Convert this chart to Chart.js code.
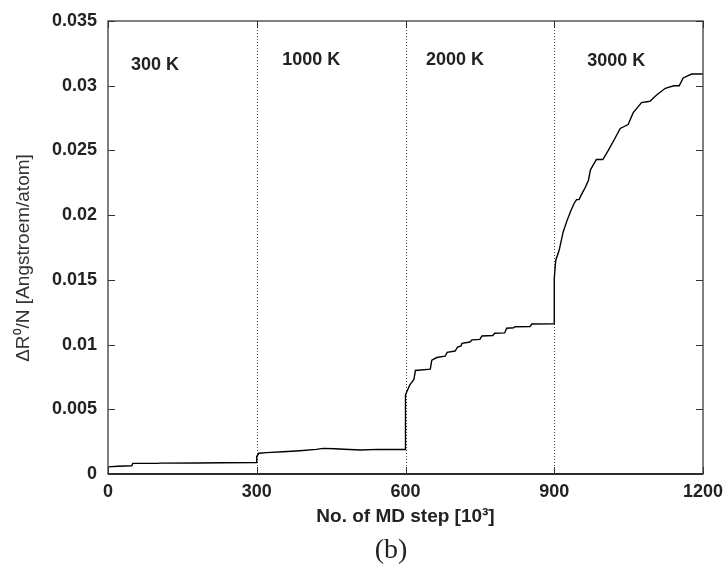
<!DOCTYPE html>
<html>
<head>
<meta charset="utf-8">
<script src="https://cdn.jsdelivr.net/npm/chart.js@4.4.0/dist/chart.umd.min.js"></script>
<style>
  html, body { margin: 0; padding: 0; background: #ffffff; }
</style>
</head>
<body>
<canvas id="graphe" width="727" height="569"></canvas>
<script>
// No. of MD step [10^3] and DeltaR0/N
const mdStep = [
  0, 20, 48, 50, 100, 105, 180, 230, 300,
  300, 304, 320, 353, 387, 420, 434, 458, 476, 510, 544, 600,
  600, 603, 609, 613, 617, 620, 650, 653, 663, 680, 684, 700, 705, 712, 714,
  730, 734, 750, 754, 776, 780, 800, 804, 818, 821, 851, 855, 900,
  900, 903, 910, 918, 925, 933, 940, 945, 950, 955, 962, 969, 973, 985, 998,
  1009, 1022, 1033, 1049, 1059, 1076, 1093, 1107, 1124, 1141, 1152, 1160, 1177, 1200
];
const drift = [
  0.00055, 0.0006, 0.00064, 0.00082, 0.00082, 0.00084, 0.00085, 0.00087, 0.00089,
  0.00135, 0.0016, 0.00165, 0.00172, 0.0018, 0.0019, 0.00198, 0.00195, 0.00191, 0.00186, 0.0019, 0.00189,
  0.0061, 0.0064, 0.0069, 0.0071, 0.0073, 0.0080, 0.0081, 0.0088, 0.0090, 0.0091, 0.0094, 0.0095, 0.0098, 0.0099, 0.0101,
  0.0102, 0.01036, 0.0104, 0.01066, 0.0107, 0.01087, 0.0109, 0.01126, 0.0113, 0.01138, 0.0114, 0.01159, 0.0116,
  0.0151, 0.0165, 0.0173, 0.0187, 0.0195, 0.0203, 0.0209, 0.0212, 0.0212, 0.0216, 0.0221, 0.0227, 0.0235, 0.0243, 0.0243,
  0.0250, 0.0259, 0.0267, 0.0270, 0.0279, 0.0287, 0.0288, 0.0293, 0.0298, 0.0300, 0.0300, 0.0306, 0.0309, 0.0309
];

// temperature phases
const phaseBounds = [300, 600, 900];
const phaseNames = ["300 K", "1000 K", "2000 K", "3000 K"];

// ticks
const xTicks = [0, 300, 600, 900, 1200];
const xTickLabels = ["0", "300", "600", "900", "1200"];
const yTicks = [0, 0.005, 0.01, 0.015, 0.02, 0.025, 0.03, 0.035];
const yTickLabels = ["0", "0.005", "0.01", "0.015", "0.02", "0.025", "0.03", "0.035"];

// where the phase names sit (data units)
const phaseNameX = [95, 410, 700, 1025];
const phaseNameY = [0.0316, 0.0320, 0.0320, 0.0319];

const police = "'Liberation Sans', Arial, Helvetica, sans-serif";

function labelFor(ticks, labels, value) {
  const i = ticks.findIndex(t => Math.abs(t - value) < 1e-9);
  return i >= 0 ? labels[i] : "";
}

const decor = {
  id: "decor",
  beforeDatasetsDraw(chart) {
    const ctx = chart.ctx;
    const a = chart.chartArea;
    const sx = chart.scales.x;
    ctx.save();
    ctx.strokeStyle = "#444444";
    ctx.lineWidth = 1;
    ctx.setLineDash([1, 2]);
    for (const b of phaseBounds) {
      const px = Math.round(sx.getPixelForValue(b)) + 0.5;
      ctx.beginPath();
      ctx.moveTo(px, a.top);
      ctx.lineTo(px, a.bottom);
      ctx.stroke();
    }
    ctx.restore();
  },
  afterDraw(chart) {
    const ctx = chart.ctx;
    const a = chart.chartArea;
    const sx = chart.scales.x;
    const sy = chart.scales.y;
    ctx.save();
    // cadre
    ctx.strokeStyle = "#555555";
    ctx.lineWidth = 1.5;
    ctx.strokeRect(a.left, a.top, a.right - a.left, a.bottom - a.top);
    ctx.strokeStyle = "#111111";
    ctx.beginPath();
    ctx.moveTo(a.left, a.bottom);
    ctx.lineTo(a.right, a.bottom);
    ctx.stroke();

    // ticks vers l'interieur
    ctx.strokeStyle = "#333333";
    ctx.lineWidth = 1;
    for (const v of yTicks) {
      const py = Math.round(sy.getPixelForValue(v)) + 0.5;
      ctx.beginPath();
      ctx.moveTo(a.left, py); ctx.lineTo(a.left + 7, py);
      ctx.moveTo(a.right, py); ctx.lineTo(a.right - 7, py);
      ctx.stroke();
    }
    for (const v of xTicks) {
      const px = Math.round(sx.getPixelForValue(v)) + 0.5;
      ctx.beginPath();
      ctx.moveTo(px, a.bottom); ctx.lineTo(px, a.bottom - 7);
      ctx.moveTo(px, a.top); ctx.lineTo(px, a.top + 7);
      ctx.stroke();
    }

    // noms des phases
    ctx.fillStyle = "#222222";
    ctx.font = "bold 18px " + police;
    ctx.textAlign = "center";
    ctx.textBaseline = "middle";
    phaseNames.forEach((nom, i) => {
      ctx.fillText(nom, sx.getPixelForValue(phaseNameX[i]), sy.getPixelForValue(phaseNameY[i]));
    });

    // titre de l'axe y (un peu sous le centre, comme l'original)
    ctx.save();
    ctx.translate(24, 258);
    ctx.rotate(-Math.PI / 2);
    ctx.fillStyle = "#333333";
    ctx.font = "19px " + police;
    ctx.fillText("ΔR⁰/N [Angstroem/atom]", 0, 0);
    ctx.restore();

    // (b)
    ctx.fillStyle = "#222222";
    ctx.font = "28px 'Liberation Serif', 'Times New Roman', serif";
    ctx.fillText("(b)", 391, 551);
    ctx.restore();
  }
};

const canvas = document.getElementById("graphe");

const config = {
  type: "line",
  data: {
    datasets: [
      {
        data: mdStep.map((x, i) => ({ x: x, y: drift[i] })),
        borderColor: "#000000",
        borderWidth: 1.4,
        pointRadius: 0,
        tension: 0,
        fill: false
      }
    ]
  },
  options: {
    responsive: false,
    animation: false,
    layout: {
      padding: { left: 0, top: 21, right: 24, bottom: 0 }
    },
    scales: {
      x: {
        type: "linear",
        min: 0,
        max: 1200,
        afterBuildTicks: s => { s.ticks = xTicks.map(v => ({ value: v })); },
        afterFit: s => { s.height = 95; s.paddingLeft = 0; s.paddingRight = 0; },
        grid: { display: false, drawTicks: false },
        border: { display: false },
        ticks: {
          color: "#222222",
          padding: 7,
          maxRotation: 0,
          font: { family: police, size: 18, weight: "bold" },
          callback: value => labelFor(xTicks, xTickLabels, value)
        },
        title: {
          display: true,
          text: "No. of MD step [10³]",
          color: "#222222",
          padding: { top: 0, bottom: 41 },
          font: { family: police, size: 19, weight: "bold" }
        }
      },
      y: {
        type: "linear",
        min: 0,
        max: 0.035,
        afterBuildTicks: s => { s.ticks = yTicks.map(v => ({ value: v })); },
        afterFit: s => { s.width = 108; s.paddingTop = 0; s.paddingBottom = 0; },
        grid: { display: false, drawTicks: false },
        border: { display: false },
        ticks: {
          color: "#222222",
          padding: 11,
          font: { family: police, size: 18, weight: "bold" },
          callback: value => labelFor(yTicks, yTickLabels, value)
        },
        title: { display: false }
      }
    },
    plugins: {
      legend: { display: false },
      tooltip: { enabled: false }
    }
  },
  plugins: [decor]
};

const myChart = new Chart(canvas, config);
</script>
</body>
</html>
